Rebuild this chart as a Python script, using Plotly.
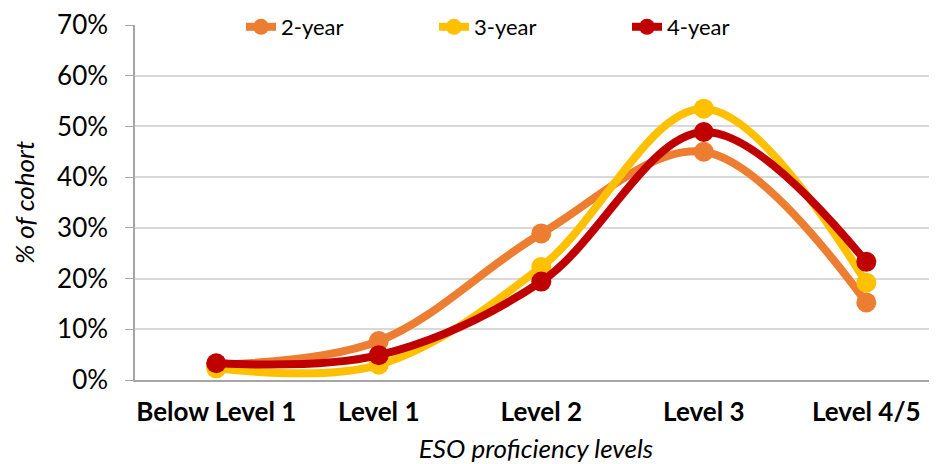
import plotly.graph_objects as go

levels = ['Below Level 1', 'Level 1', 'Level 2', 'Level 3', 'Level 4/5']

two_year = [0.030, 0.077, 0.289, 0.450, 0.153]
three_year = [0.023, 0.030, 0.223, 0.535, 0.192]
four_year = [0.033, 0.049, 0.194, 0.489, 0.233]

series = [
	('2-year', two_year, '#ED7D31'),
	('3-year', three_year, '#FFC000'),
	('4-year', four_year, '#C00000'),
]

font_name = "Lato, 'Open Sans', sans-serif"

fig = go.Figure()

for name, values, colour in series:
	fig.add_trace(go.Scatter(
		x=levels,
		y=values,
		name=name,
		mode='lines+markers',
		line=dict(color=colour, width=8, shape='spline', smoothing=1.0),
		marker=dict(color=colour, size=20),
	))

# page body has an 8px margin, so the figure is sized to fit inside the window
fig.update_layout(
	width=929,
	height=456,
	margin=dict(l=127, r=0, t=17, b=84, autoexpand=False),
	plot_bgcolor='white',
	paper_bgcolor='white',
	font=dict(family=font_name, size=26, color='black'),
	showlegend=True,
	legend=dict(
		orientation='h',
		xref='container',
		yref='container',
		x=0.2508,
		xanchor='left',
		y=1 - 19 / 456,
		yanchor='middle',
		entrywidth=148,
		entrywidthmode='pixels',
		font=dict(size=22),
		bgcolor='rgba(0,0,0,0)',
	),
)

fig.update_xaxes(
	range=[-0.5, 4.435],
	automargin=False,
	showline=True,
	linecolor='#A6A6A6',
	linewidth=1.5,
	showgrid=False,
	ticks='',
	ticklabelstandoff=8,
	tickfont=dict(size=26, family=font_name, weight='bold'),
	title=dict(
		text='ESO proficiency levels',
		font=dict(size=26, family=font_name, style='italic'),
		standoff=22,
	),
)

fig.update_yaxes(
	range=[0, 0.7],
	dtick=0.1,
	tickformat='.0%',
	automargin=False,
	showline=True,
	linecolor='#A6A6A6',
	linewidth=1.5,
	showgrid=True,
	gridcolor='#D9D9D9',
	gridwidth=1.5,
	ticks='outside',
	ticklen=8,
	tickcolor='#A6A6A6',
	ticklabelstandoff=12,
	zeroline=False,
	tickfont=dict(size=26, family=font_name),
	title=dict(
		text='% of cohort',
		font=dict(size=26, family=font_name, style='italic'),
		standoff=21,
	),
)

fig.write_html("out.html")
